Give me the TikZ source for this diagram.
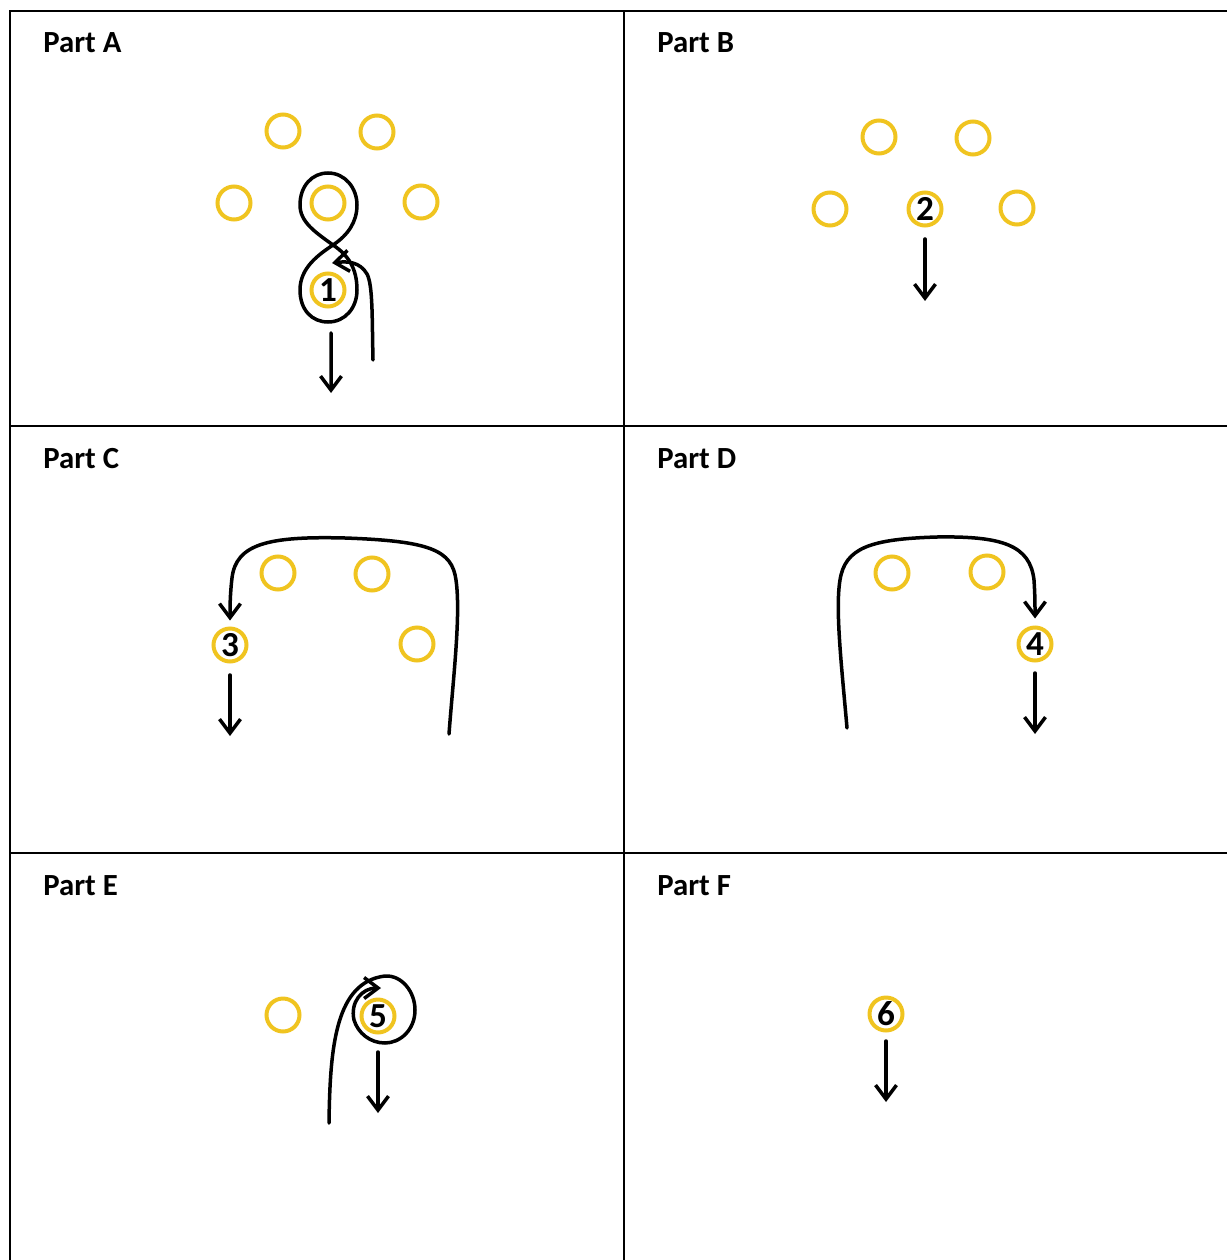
\documentclass[tikz,border=0pt]{standalone}
\usepackage{fontspec}
\setmainfont{Carlito}
\usepackage{xcolor}
\usepackage{tikz}
\usetikzlibrary{arrows.meta}

\definecolor{conegold}{RGB}{240,196,32}

\begin{document}
\begin{tikzpicture}[
    x=0.02cm, y=-0.02cm,
    cone/.style      = {circle, draw=conegold, line width=0.08cm,
                        minimum size=0.66cm, inner sep=0pt,
                        font=\fontsize{20}{20}\selectfont\bfseries},
    tableline/.style = {line width=0.04cm},
    parttitle/.style = {anchor=base west, inner sep=0pt,
                        font=\fontsize{17.5}{20}\selectfont\bfseries},
    route/.style     = {line width=0.07cm, line cap=round},
    move/.style      = {route, -{Straight Barb[length=0.28cm, width=0.42cm]}}
]
\useasboundingbox (0,0) rectangle (1227,1260);

% ========= table frame =========
\draw[tableline] (10,1260) -- (10,11) -- (1227,11);
\draw[tableline] (624,11)  -- (624,1260);
\draw[tableline] (10,426)  -- (1227,426);
\draw[tableline] (10,853)  -- (1227,853);

\node[parttitle] (tA) at (43,53)   {Part A};
\node[parttitle] (tB) at (657,53)  {Part B};
\node[parttitle] (tC) at (43,468)  {Part C};
\node[parttitle] (tD) at (657,468) {Part D};
\node[parttitle] (tE) at (43,895)  {Part E};
\node[parttitle] (tF) at (657,895) {Part F};

% ========= Part A =========
\node[cone] (a1) at (283,131) {};
\node[cone] (a2) at (377,132) {};
\node[cone] (a3) at (234,203) {};
\node[cone] (a4) at (328,203) {};
\node[cone] (a5) at (421,202) {};
\node[cone] (pA) at (328,290) {1};

% figure of eight round a4 and pA
\coordinate (xA) at (333,245);
\draw[route] (xA) .. controls (315,232) and (300,222) .. (300,205)
                  .. controls (300,186) and (312,173) .. (328,173)
                  .. controls (345,173) and (357,188) .. (357,205)
                  .. controls (357,222) and (348,235) .. (xA)
                  .. controls (318,255) and (300,268) .. (300,290)
                  .. controls (300,310) and (312,322) .. (328,322)
                  .. controls (345,322) and (357,308) .. (357,290)
                  .. controls (357,268) and (348,255) .. (xA);

\coordinate (sA) at (373,360);
\coordinate (hA) at (332,263);
\draw[move] (sA) .. controls (372,320) and (373,285) .. (367,274)
                 .. controls (360,262) and (348,261) .. (hA);

\coordinate (eA) at (331,393);
\draw[move] ([xshift=0.06cm, yshift=-0.49cm]pA.south) -- (eA);

% ========= Part B =========
\node[cone] (b1) at (879,137)  {};
\node[cone] (b2) at (973,138)  {};
\node[cone] (b3) at (830,209)  {};
\node[cone] (b4) at (1017,208) {};
\node[cone] (pB) at (925,209)  {2};

\coordinate (eB) at (925,301);
\draw[move] ([yshift=-0.23cm]pB.south) -- (eB);

% ========= Part C =========
\node[cone] (c1) at (278,573) {};
\node[cone] (c2) at (372,574) {};
\node[cone] (c3) at (417,644) {};
\node[cone] (pC) at (230,645) {3};

\coordinate (sC) at (449,734);
\draw[move] (sC) .. controls (453,680) and (461,615) .. (456,580)
                 .. controls (452,550) and (430,541) .. (345,538)
                 .. controls (268,536) and (236,544) .. (232,578)
                 .. controls (230,595) and (230,608) .. ([yshift=0.12cm]pC.north);

\coordinate (eC) at (230,736);
\draw[move] ([yshift=-0.23cm]pC.south) -- (eC);

% ========= Part D =========
\node[cone] (d1) at (892,573)  {};
\node[cone] (d2) at (987,572)  {};
\node[cone] (pD) at (1035,644) {4};

\coordinate (sD) at (847,728);
\draw[move] (sD) .. controls (842,670) and (835,610) .. (840,580)
                 .. controls (845,548) and (870,539) .. (937,537)
                 .. controls (1002,536) and (1030,545) .. (1034,580)
                 .. controls (1035,595) and (1035,605) .. ([yshift=0.14cm]pD.north);

\coordinate (eD) at (1035,734);
\draw[move] ([yshift=-0.21cm]pD.south) -- (eD);

% ========= Part E =========
\node[cone] (e1) at (283,1015) {};
\node[cone] (pE) at (378,1016) {5};

% spiral round pE
\coordinate (sE) at (329,1123);
\coordinate (hE) at (381,988);
\draw[move] (sE) .. controls (330,1045) and (336,982) .. (385,976)
                 .. controls (402,975) and (415,992) .. (415,1010)
                 .. controls (415,1030) and (400,1043) .. (385,1043)
                 .. controls (370,1043) and (358,1033) .. (354,1020)
                 .. controls (350,1002) and (362,988) .. (hE);

\coordinate (eE) at (378,1113);
\draw[move] ([yshift=-0.35cm]pE.south) -- (eE);

% ========= Part F =========
\node[cone] (pF) at (886,1014) {6};

\coordinate (eF) at (886,1102);
\draw[move] ([yshift=-0.17cm]pF.south) -- (eF);
\end{tikzpicture}
\end{document}
